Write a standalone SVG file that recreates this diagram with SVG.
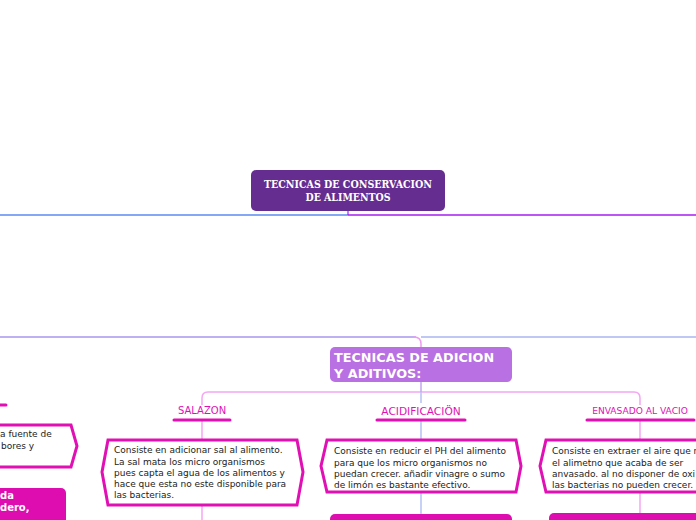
<svg xmlns="http://www.w3.org/2000/svg" width="696" height="520" viewBox="0 0 696 520">
<style>
.desc{font-family:"DejaVu Sans","Verdana",sans-serif;font-size:9px;fill:#222}
.lbl{font-family:"DejaVu Sans","Verdana",sans-serif;fill:#e010b4;text-anchor:middle}
.ul{stroke:#e010b4;stroke-width:3;stroke-linecap:round;fill:none}
.hex{fill:#fff;stroke:#e010b4;stroke-width:3;stroke-linejoin:miter}
.pk{stroke:#f4a6f2;stroke-width:1.5;fill:none}
.bl{stroke:#b4c2f4;stroke-width:1.5;fill:none}
.mag{fill:#dd0db0}
.wb{font-family:"DejaVu Sans","Verdana",sans-serif;font-weight:bold;fill:#fff}
</style>
<rect width="696" height="520" fill="#fff"/>
<g id="connectors">
<line x1="0" y1="215" x2="348" y2="215" stroke="#5b8bf2" stroke-width="1.6"/>
<line x1="348" y1="215" x2="696" y2="215" stroke="#a51ef0" stroke-width="1.6"/>
<line x1="348" y1="210" x2="348" y2="215" stroke="#a51ef0" stroke-width="1.2"/>
<line x1="0" y1="337" x2="416" y2="337" stroke="#a797ee" stroke-width="1.5"/>
<line x1="421" y1="337" x2="696" y2="337" stroke="#aab6f2" stroke-width="1.5"/>
<path d="M414 337 Q421 337 421 344 L421 348" stroke="#ee9cf0" stroke-width="1.5" fill="none"/>
<path class="pk" d="M202 405 L202 398 Q202 392 208 392 L634 392 Q640 392 640 398 L640 405"/>
<line x1="421" y1="382" x2="421" y2="392" stroke="#c4a4f0" stroke-width="1.5"/>
<line class="bl" x1="421" y1="392" x2="421" y2="403"/>
<line class="bl" x1="421" y1="420" x2="421" y2="440"/>
<line class="bl" x1="421" y1="493" x2="421" y2="514"/>
<line class="pk" x1="202" y1="420" x2="202" y2="440"/>
<line class="pk" x1="202" y1="505" x2="202" y2="520"/>
<line class="pk" x1="640" y1="420" x2="640" y2="440"/>
<line class="pk" x1="640" y1="493" x2="640" y2="514"/>
</g>
<g id="root">
<rect x="251" y="170" width="194" height="41" rx="5" fill="#662d91"/>
<text x="348" y="188" font-family="'DejaVu Serif',serif" font-size="11" font-weight="bold" fill="#fff" text-anchor="middle" textLength="168" lengthAdjust="spacingAndGlyphs">TECNICAS DE CONSERVACION</text>
<text x="348" y="201" font-family="'DejaVu Serif',serif" font-size="11" font-weight="bold" fill="#fff" text-anchor="middle" textLength="85" lengthAdjust="spacingAndGlyphs">DE ALIMENTOS</text>
</g>
<g id="adicion">
<rect x="330" y="347" width="182" height="35" rx="5" fill="#b870e2"/>
<text class="wb" x="334" y="362" font-size="12.8">TECNICAS DE ADICION</text>
<text class="wb" x="334" y="378" font-size="12.8">Y ADITIVOS:</text>
</g>
<g id="salazon-label">
<text class="lbl" x="202" y="414" font-size="10">SALAZON</text>
<line class="ul" x1="174" y1="420" x2="230" y2="420"/>
</g>
<g id="salazon">
<polygon class="hex" points="108,440 297,440 303,472 297,505 108,505 102,472"/>
<text class="desc" x="114" y="453">Consiste en adicionar sal al alimento.</text>
<text class="desc" x="114" y="464.5">La sal mata los micro organismos</text>
<text class="desc" x="114" y="476">pues capta el agua de los alimentos y</text>
<text class="desc" x="114" y="487">hace que esta no este disponible para</text>
<text class="desc" x="114" y="498">las bacterias.</text>
</g>
<g id="acidificacion-label">
<text class="lbl" x="421" y="415" font-size="10.6">ACIDIFICACIÖN</text>
<line class="ul" x1="377" y1="420" x2="465" y2="420"/>
</g>
<g id="acidificacion">
<polygon class="hex" points="327,440 516,440 521,466 516,492 327,492 321,466"/>
<text class="desc" x="334" y="454">Consiste en reducir el PH del alimento</text>
<text class="desc" x="334" y="465.5">para que los micro organismos no</text>
<text class="desc" x="334" y="477">puedan crecer. añadir vinagre o sumo</text>
<text class="desc" x="334" y="488">de limón es bastante efectivo.</text>
</g>
<g id="vacio-label">
<text class="lbl" x="640" y="414" font-size="9.1">ENVASADO AL VACIO</text>
<line class="ul" x1="587" y1="420" x2="694" y2="420"/>
</g>
<g id="vacio">
<polygon class="hex" points="546,440 710,440 710,492 546,492 540,466"/>
<text class="desc" x="552" y="454">Consiste en extraer el aire que r</text>
<text class="desc" x="552" y="465.5">el alimetno que acaba de ser</text>
<text class="desc" x="552" y="477">anvasado. al no disponer de oxi</text>
<text class="desc" x="552" y="488">las bacterias no pueden crecer.</text>
</g>
<g id="left-label">
<line class="ul" x1="-10" y1="405" x2="6" y2="405"/>
</g>
<g id="left-desc">
<polygon class="hex" points="-20,425 71,425 77,446 71,467 -20,467"/>
<text class="desc" x="0" y="437">a fuente de</text>
<text class="desc" x="1" y="449">bores y</text>
</g>
<g id="left-bottom">
<rect class="mag" x="-20" y="488" width="86" height="50" rx="5"/>
<text class="wb" x="0" y="499" font-size="10">da</text>
<text class="wb" x="0" y="511" font-size="10">dero,</text>
</g>
<g id="acid-bottom">
<rect class="mag" x="330" y="514" width="182" height="30" rx="5"/>
</g>
<g id="vacio-bottom">
<rect class="mag" x="549" y="513" width="160" height="30" rx="5"/>
</g>
</svg>
